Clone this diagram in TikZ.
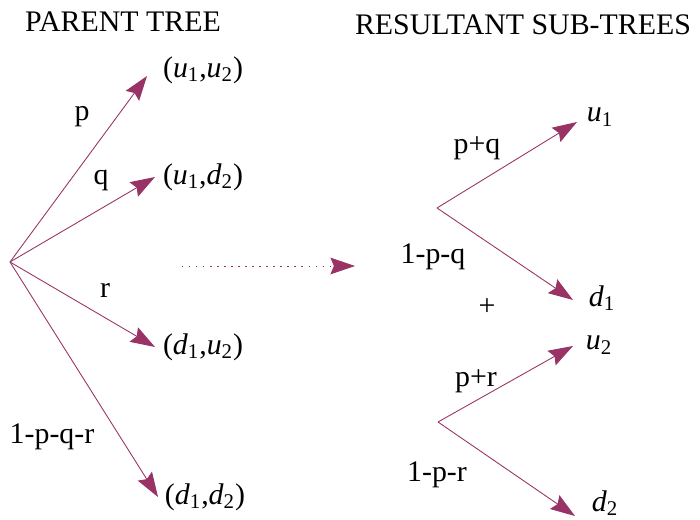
\documentclass[tikz,border=0pt]{standalone}
\usepackage{fontspec}
\setmainfont{Liberation Serif}
\usetikzlibrary{arrows.meta}
\definecolor{plum}{HTML}{993366}
\newcommand{\vsub}[2]{\textit{#1}\textsubscript{#2}}
\tikzset{
  branch/.style={draw=plum, line width=0.5pt, -{Stealth[length=14pt,width=9.5pt,inset=2pt,fill=plum]}},
  lbl/.style={font=\fontsize{17}{20}\selectfont, inner sep=0pt}
}
\begin{document}
\begin{tikzpicture}[x=0.02cm, y=-0.02cm]
\useasboundingbox (0,0) rectangle (700,520);
% titles
\node[lbl] (ttlA) at (123,22) {PARENT TREE};
\node[lbl] (ttlB) at (523,25) {RESULTANT SUB-TREES};
% parent tree
\coordinate (root) at (10,262);
\coordinate (tUU) at (147,76);
\coordinate (tUD) at (155,177);
\coordinate (tDU) at (155,347);
\coordinate (tDD) at (158,497);
\node[lbl] (nUU) at (203,70) {(\vsub{u}{1},\vsub{u}{2})};
\node[lbl] (nUD) at (203,177) {(\vsub{u}{1},\vsub{d}{2})};
\node[lbl] (nDU) at (203,347) {(\vsub{d}{1},\vsub{u}{2})};
\node[lbl] (nDD) at (205,497) {(\vsub{d}{1},\vsub{d}{2})};
\foreach \t in {tUU,tUD,tDU,tDD} \draw[branch] (root) -- (\t);
\node[lbl] (pp) at (82,117) {p};
\node[lbl] (pq) at (101,180) {q};
\node[lbl] (pr) at (105,290) {r};
\node[lbl] (prest) at (52,437) {1-p-q-r};
% dotted arrow
\coordinate (dotA) at (182,266);
\coordinate (dotB) at (355,266);
\draw[branch, dash pattern=on 0.8pt off 3.2pt] (dotA) -- (dotB);
% sub-tree 1
\coordinate (rootA) at (437,208);
\coordinate (tU1) at (577,122);
\coordinate (tD1) at (573,300);
\node[lbl] (nU1) at (600,117) {\vsub{u}{1}};
\node[lbl] (nD1) at (602,298) {\vsub{d}{1}};
\draw[branch] (rootA) -- (tU1);
\draw[branch] (rootA) -- (tD1);
\node[lbl] (ppq) at (477,148) {p+q};
\node[lbl] (pnq) at (433,257) {1-p-q};
\node[lbl] (plus) at (487,307) {+};
% sub-tree 2
\coordinate (rootB) at (438,422);
\coordinate (tU2) at (573,346);
\coordinate (tD2) at (575,516);
\node[lbl] (nU2) at (599,345) {\vsub{u}{2}};
\node[lbl] (nD2) at (605,503) {\vsub{d}{2}};
\draw[branch] (rootB) -- (tU2);
\draw[branch] (rootB) -- (tD2);
\node[lbl] (ppr) at (476,381) {p+r};
\node[lbl] (pnr) at (437,475) {1-p-r};
\end{tikzpicture}
\end{document}
